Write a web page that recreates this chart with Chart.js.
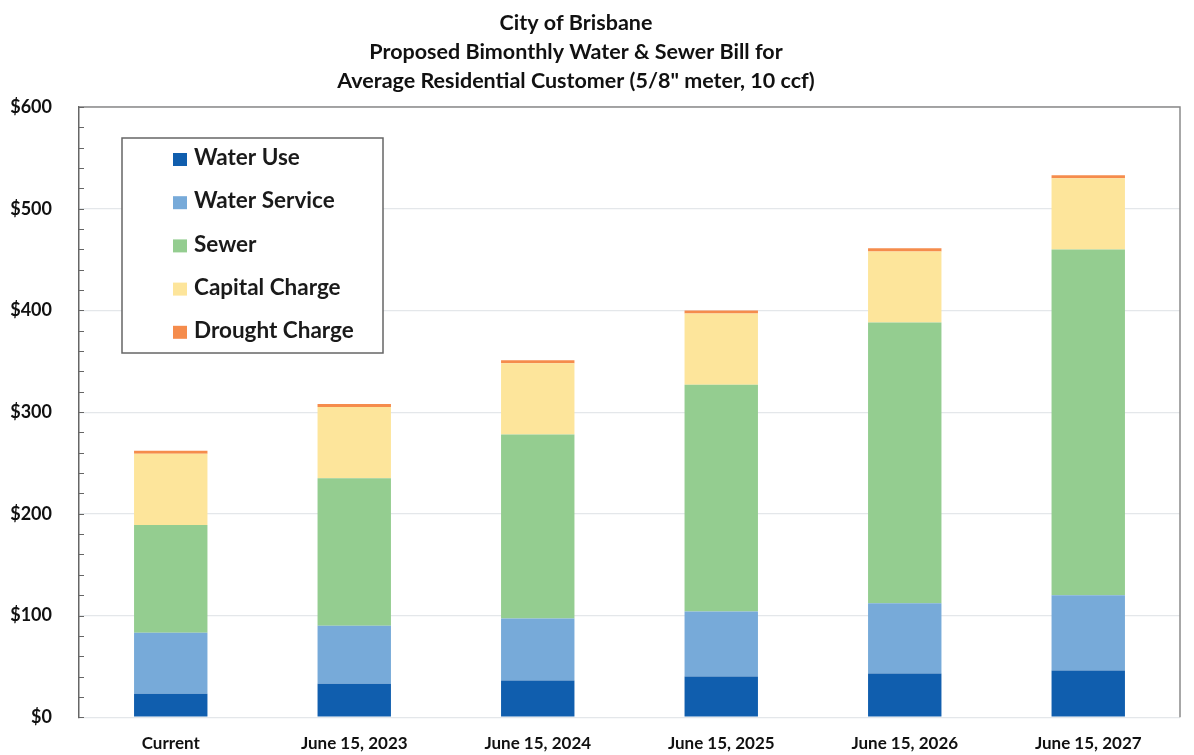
<!DOCTYPE html>
<html lang="en">
<head>
  <meta charset="UTF-8">
  <title>City of Brisbane - Proposed Bimonthly Water & Sewer Bill</title>
  <script src="https://cdn.jsdelivr.net/npm/chart.js"></script>
  <style>
    body {
      margin: 0;
      background: #ffffff;
    }
    canvas {
      display: block;
    }
  </style>
</head>
<body>
  <canvas id="billChart" width="1194" height="755"></canvas>

  <script>
    const categories = ['Current', 'June 15, 2023', 'June 15, 2024', 'June 15, 2025', 'June 15, 2026', 'June 15, 2027'];
    const waterUse = [23, 33, 36, 40, 43, 46];
    const waterService = [60, 57, 61, 64, 69, 74];
    const sewer = [106, 145, 181, 223, 276, 340];
    const capitalCharge = [70, 70, 70, 70, 70, 70];
    const droughtCharge = [3, 3, 3, 3, 3, 3];
    const titleLines = ['City of Brisbane', 'Proposed Bimonthly Water & Sewer Bill for', 'Average Residential Customer (5/8" meter, 10 ccf)'];

    const FONT = 'Lato, "Open Sans", sans-serif';

    // title drawn by hand so it can sit a bit left of centre like the original
    const titlePlugin = {
      id: 'titleLines',
      afterDraw(chart) {
        const ctx = chart.ctx;
        ctx.save();
        ctx.fillStyle = '#111';
        ctx.font = 'bold 21.5px ' + FONT;
        ctx.textAlign = 'center';
        ctx.textBaseline = 'alphabetic';
        titleLines.forEach((t, i) => ctx.fillText(t, 576, 30 + i * 29));
        ctx.restore();
      }
    };

    // boxed legend inside the plot, plus frame and inside tick marks
    const framePlugin = {
      id: 'frame',
      afterDraw(chart) {
        const ctx = chart.ctx;
        const a = chart.chartArea;
        const y = chart.scales.y;
        ctx.save();
        ctx.strokeStyle = '#8a8a8a';
        ctx.lineWidth = 1.5;
        ctx.beginPath();
        ctx.moveTo(a.left, a.top);
        ctx.lineTo(a.right, a.top);
        ctx.lineTo(a.right, a.bottom);
        ctx.stroke();

        ctx.strokeStyle = '#666';
        ctx.lineWidth = 1;
        y.ticks.forEach((t, i) => {
          const py = Math.round(y.getPixelForTick(i)) + 0.5;
          ctx.beginPath();
          ctx.moveTo(a.left, py);
          ctx.lineTo(a.left + 5, py);
          ctx.stroke();
        });

        // legend box
        ctx.fillStyle = '#fff';
        ctx.fillRect(122, 138, 261, 215);
        ctx.strokeStyle = '#666';
        ctx.lineWidth = 1.5;
        ctx.strokeRect(122, 138, 261, 215);
        ctx.font = 'bold 22.5px ' + FONT;
        ctx.textBaseline = 'middle';
        ctx.textAlign = 'left';
        chart.data.datasets.forEach((ds, i) => {
          const cy = 158 + i * 43.2;
          ctx.fillStyle = ds.backgroundColor;
          ctx.fillRect(173, cy - 5, 14, 13);
          ctx.fillStyle = '#1a1a1a';
          ctx.fillText(ds.label, 194, cy);
        });
        ctx.restore();
      }
    };

    const ctx = document.getElementById('billChart').getContext('2d');
    new Chart(ctx, {
      type: 'bar',
      data: {
        labels: categories,
        datasets: [
          { label: 'Water Use', data: waterUse, backgroundColor: '#105eae' },
          { label: 'Water Service', data: waterService, backgroundColor: '#77aad9' },
          { label: 'Sewer', data: sewer, backgroundColor: '#94cd90' },
          { label: 'Capital Charge', data: capitalCharge, backgroundColor: '#fde59b' },
          { label: 'Drought Charge', data: droughtCharge, backgroundColor: '#f58c4c' }
        ]
      },
      options: {
        responsive: false,
        animation: false,
        layout: {
          padding: { top: 107, right: 14, bottom: 0, left: 10 }
        },
        datasets: {
          bar: { barPercentage: 0.4, categoryPercentage: 1.0 }
        },
        plugins: {
          legend: { display: false },
          tooltip: { enabled: false },
          title: { display: false }
        },
        scales: {
          x: {
            stacked: true,
            grid: { display: false },
            border: { display: false },
            afterFit: s => { s.height = 36; },
            ticks: {
              color: '#111',
              padding: 8,
              maxRotation: 0,
              font: { family: FONT, size: 17, weight: 'bold' }
            }
          },
          y: {
            stacked: true,
            min: 0,
            max: 600,
            afterFit: s => { s.width = 69; },
            border: { display: true, color: '#666', width: 1.5 },
            grid: {
              drawTicks: false,
              color: c => (c.tick && c.tick.value % 100 === 0) ? '#e4e7ea' : 'rgba(0,0,0,0)',
              lineWidth: 1.2
            },
            ticks: {
              stepSize: 20,
              autoSkip: false,
              padding: 27,
              color: '#111',
              font: { family: FONT, size: 18, weight: 'bold' },
              callback: v => (v % 100 === 0) ? '$' + v : ''
            }
          }
        }
      },
      plugins: [titlePlugin, framePlugin]
    });
  </script>
</body>
</html>
